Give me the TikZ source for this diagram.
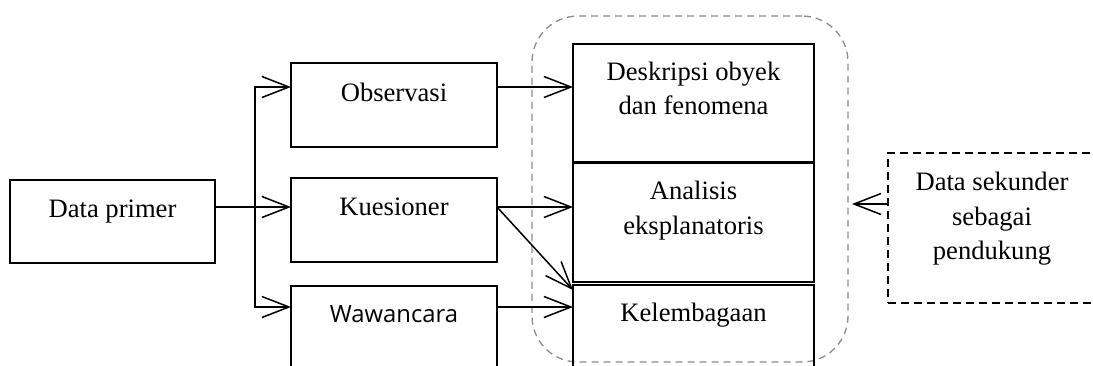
\documentclass[tikz,border=0pt]{standalone}
\usepackage{fontspec}
\setmainfont{Liberation Serif}
\newfontfamily\wawfont{Open Sans}
\usetikzlibrary{arrows.meta,calc}
\begin{document}
\begin{tikzpicture}[x=1pt,y=-1pt,
  boxst/.style={draw, line width=1.8pt, inner sep=0pt, outer sep=0pt},
  txt/.style={inner sep=0pt, font=\fontsize{26.6}{34.5}\selectfont, anchor=base},
  arr/.style={line width=1.5pt, -{Straight Barb[length=27pt,width=21pt]}},
  grpst/.style={draw=black!45, line width=1.3pt, dash pattern=on 7pt off 5pt,
    rounded corners=46pt, inner sep=0pt, outer sep=0pt},
  dsst/.style={draw, line width=1.6pt, dash pattern=on 8pt off 5pt, inner sep=0pt, outer sep=0pt}
]
\clip (0,0) rectangle (1093,365);
\fill[white] (0,0) rectangle (1093,365);

% ports
\coordinate (bus) at (255,0);
\coordinate (pObs) at (0,87);
\coordinate (pKue) at (0,207);
\coordinate (pWaw) at (0,307);
\coordinate (pDs) at (0,204);

% group outline
\node[grpst, minimum width=316pt, minimum height=346pt] (grp) at (690,189) {};

% boxes
\node[boxst, minimum width=205pt, minimum height=83pt] (dp) at (112.5,221.5) {};
\node[boxst, minimum width=206pt, minimum height=84pt] (obs) at (394,105) {};
\node[boxst, minimum width=206pt, minimum height=84pt] (kue) at (394,220) {};
\node[boxst, minimum width=206pt, minimum height=84pt] (waw) at (394,328) {};
\node[boxst, minimum width=241pt, minimum height=118pt] (desk) at (693.5,103) {};
\node[boxst, minimum width=241pt, minimum height=119pt] (ana) at (693.5,222.5) {};
\node[boxst, minimum width=241pt, minimum height=116pt] (kel) at (693.5,343) {};
\node[dsst, minimum width=208pt, minimum height=150pt] (ds) at (992,228) {};

% texts
\node[txt] (dpT) at (112.5,217) {Data primer};
\node[txt] (obsT) at (394,101) {Observasi};
\node[txt] (kueT) at (394,215.5) {Kuesioner};
\node[txt, font=\wawfont\fontsize{23.8}{30}\selectfont] (wawT) at (394,322.5) {Wawancara};
\node[txt] (deskT) at (693.5,80) {\begin{tabular}[t]{@{}c@{}}Deskripsi obyek\\dan fenomena\end{tabular}};
\node[txt] (anaT) at (693.5,199.5) {\begin{tabular}[t]{@{}c@{}}Analisis\\eksplanatoris\end{tabular}};
\node[txt] (kelT) at (693.5,321) {Kelembagaan};
\node[txt] (dsT) at (992,190.5) {\begin{tabular}[t]{@{}c@{}}Data sekunder\\sebagai\\pendukung\end{tabular}};

% connectors
\draw[arr] (dp.east |- pKue) -- (kue.west |- pKue);
\draw[arr] (bus |- pKue) |- (obs.west |- pObs);
\draw[arr] (bus |- pKue) |- (waw.west |- pWaw);
\draw[arr] (obs.east |- pObs) -- (desk.west |- pObs);
\draw[arr] (kue.east |- pKue) -- (ana.west |- pKue);
\draw[arr] (kue.east |- pKue) -- ($(kel.north west)+(0,5)$);
\draw[arr] (waw.east |- pWaw) -- (kel.west |- pWaw);
\draw[arr] (ds.west |- pDs) -- ($(grp.east |- pDs)+(4,0)$);
\end{tikzpicture}
\end{document}
